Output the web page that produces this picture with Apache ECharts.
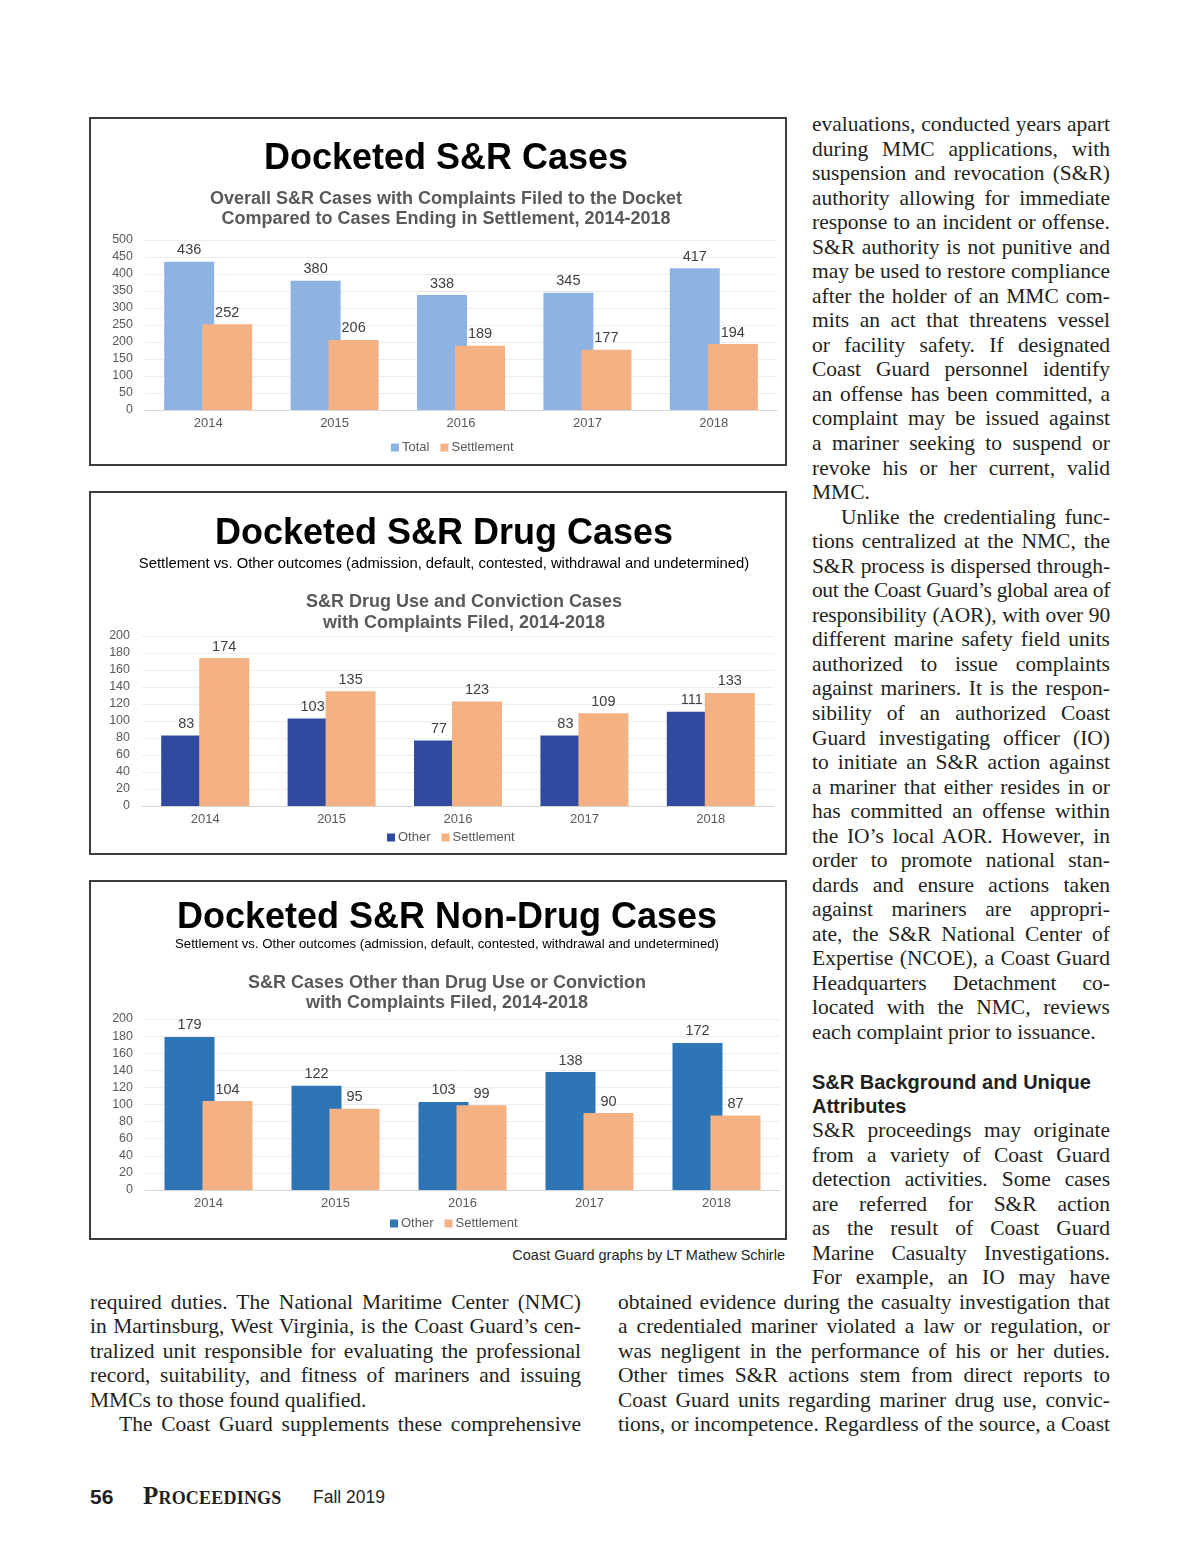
<!DOCTYPE html>
<html>
<head>
<meta charset="utf-8">
<script src="https://cdn.jsdelivr.net/npm/echarts@6/dist/echarts.min.js"></script>
<style>
  html, body { margin:0; padding:0; background:#fff; }
  #page { position:relative; width:1200px; height:1558px; overflow:hidden; background:#fff; }
  .chart { position:absolute; }
  .frame { position:absolute; border:2px solid #3c3c3c; box-sizing:border-box; pointer-events:none; }
  .ln { position:absolute; font-family:"Liberation Serif","Times New Roman",serif; font-size:21.5px; color:#231f20;
        line-height:24px; height:24px; white-space:nowrap; text-align:justify; text-align-last:justify; }
  .ln.nj { text-align:left; text-align-last:left; }
  .head { position:absolute; font-family:"Liberation Sans",Arial,sans-serif; font-weight:bold; font-size:20px; color:#231f20; line-height:24px; white-space:nowrap; }
  .cap { position:absolute; font-family:"Liberation Sans Narrow","Liberation Sans",Arial,sans-serif; font-size:14.5px; color:#231f20; white-space:nowrap; }
</style>
</head>
<body>
<div id="page">
  <div id="c1" class="chart" style="left:90px;top:118px;width:696px;height:347px;"></div>
  <div class="frame" style="left:89px;top:117px;width:698px;height:349px;"></div>
  <div id="c2" class="chart" style="left:90px;top:492px;width:696px;height:362px;"></div>
  <div class="frame" style="left:89px;top:491px;width:698px;height:364px;"></div>
  <div id="c3" class="chart" style="left:90px;top:881px;width:696px;height:358px;"></div>
  <div class="frame" style="left:89px;top:880px;width:698px;height:360px;"></div>
  <div class="cap" style="right:415px;top:1247px;">Coast Guard graphs by LT Mathew Schirle</div>
  <div class="head" style="left:812px;top:1070px;">S&amp;R Background and Unique</div>
  <div class="head" style="left:812px;top:1094px;">Attributes</div>
  <div style="position:absolute;left:90px;top:1485px;font-family:'Liberation Sans',Arial,sans-serif;font-weight:bold;font-size:21px;color:#231f20;">56</div>
  <div style="position:absolute;left:143px;top:1482px;font-family:'Liberation Serif',serif;font-weight:bold;font-variant:small-caps;font-size:25px;letter-spacing:0.2px;color:#231f20;">Proceedings</div>
  <div style="position:absolute;left:313px;top:1487px;font-family:'Liberation Sans',Arial,sans-serif;font-size:17.5px;color:#231f20;">Fall 2019</div>
</div>
<script>
// ---------- chart data ----------
const years = ['2014', '2015', '2016', '2017', '2018'];
const totalCases = [436, 380, 338, 345, 417];
const totalSettlement = [252, 206, 189, 177, 194];
const drugOther = [83, 103, 77, 83, 111];
const drugSettlement = [174, 135, 123, 109, 133];
const nonDrugOther = [179, 122, 103, 138, 172];
const nonDrugSettlement = [104, 95, 99, 90, 87];

const FONT = '"Liberation Sans", Arial, sans-serif';
const SETTLE_COLOR = '#F4B183';

function txt(text, x, y, size, weight, color) {
  return { type: 'text', x: x, y: y, silent: true,
    style: { text: text, font: weight + ' ' + size + 'px ' + FONT, fill: color,
             align: 'center', verticalAlign: 'middle', textAlign: 'center', textVerticalAlign: 'middle' } };
}

function makeChart(id, cfg) {
  const chart = echarts.init(document.getElementById(id), null, { renderer: 'canvas' });
  const labelOpt = { show: true, position: 'top', distance: 4, fontFamily: FONT, fontSize: 14.5, color: '#404040' };
  chart.setOption({
    animation: false,
    graphic: cfg.texts,
    grid: cfg.grid,
    legend: { left: cfg.legendLeft, top: cfg.legendTop, icon: 'rect', itemWidth: 8, itemHeight: 8, itemGap: 11,
      textStyle: { fontFamily: FONT, fontSize: 13, color: '#595959', padding: [0, 0, 0, -2] } },
    xAxis: { type: 'category', data: years,
      axisLine: { lineStyle: { color: '#d6d6d6', width: 1 } }, axisTick: { show: false },
      axisLabel: { fontFamily: FONT, fontSize: 13, color: '#595959', margin: 7 } },
    yAxis: { type: 'value', min: 0, max: cfg.max, interval: cfg.step,
      axisLine: { show: false }, axisTick: { show: false },
      splitLine: { lineStyle: { color: '#ededed', width: 1 } },
      axisLabel: { fontFamily: FONT, fontSize: 12.5, color: '#595959', margin: 12 } },
    series: [
      { name: cfg.names[0], type: 'bar', data: cfg.a, barWidth: 50, barGap: '-24%',
        itemStyle: { color: cfg.colorA }, label: labelOpt },
      { name: cfg.names[1], type: 'bar', data: cfg.b, barWidth: 50, barGap: '-24%',
        itemStyle: { color: SETTLE_COLOR }, label: labelOpt }
    ]
  });
}

makeChart('c1', {
  texts: [
    txt('Docketed S&R Cases', 356, 41, 36, 'bold', '#000'),
    txt('Overall S&R Cases with Complaints Filed to the Docket', 356, 81, 18, 'bold', '#595959'),
    txt('Compared to Cases Ending in Settlement, 2014-2018', 356, 101, 18, 'bold', '#595959')
  ],
  grid: { left: 55, top: 122, width: 632, height: 170 },
  max: 500, step: 50, names: ['Total', 'Settlement'], a: totalCases, b: totalSettlement,
  colorA: '#8DB3E2', legendLeft: 296, legendTop: 318
});

makeChart('c2', {
  texts: [
    txt('Docketed S&R Drug Cases', 354, 42, 36, 'bold', '#000'),
    txt('Settlement vs. Other outcomes (admission, default, contested, withdrawal and undetermined)', 354, 72, 14.8, 'normal', '#000'),
    txt('S&R Drug Use and Conviction Cases', 374, 110, 18, 'bold', '#595959'),
    txt('with Complaints Filed, 2014-2018', 374, 131, 18, 'bold', '#595959')
  ],
  grid: { left: 52, top: 144, width: 632, height: 170 },
  max: 200, step: 20, names: ['Other', 'Settlement'], a: drugOther, b: drugSettlement,
  colorA: '#2F4A9F', legendLeft: 292, legendTop: 334
});

makeChart('c3', {
  texts: [
    txt('Docketed S&R Non-Drug Cases', 357, 37, 36, 'bold', '#000'),
    txt('Settlement vs. Other outcomes (admission, default, contested, withdrawal and undetermined)', 357, 63, 13.2, 'normal', '#000'),
    txt('S&R Cases Other than Drug Use or Conviction', 357, 102, 18, 'bold', '#595959'),
    txt('with Complaints Filed, 2014-2018', 357, 122, 18, 'bold', '#595959')
  ],
  grid: { left: 55, top: 138, width: 635, height: 171 },
  max: 200, step: 20, names: ['Other', 'Settlement'], a: nonDrugOther, b: nonDrugSettlement,
  colorA: '#2E75B6', legendLeft: 295, legendTop: 331
});

// ---------- article text ----------
function placeLines(lines, x, y0, step, width) {
  const page = document.getElementById('page');
  lines.forEach(function (l, i) {
    const d = document.createElement('div');
    let t = l, cls = 'ln', indent = 0;
    if (t.startsWith('>')) { indent = 29; t = t.slice(1); }
    if (t.endsWith('|')) { cls += ' nj'; t = t.slice(0, -1); }
    d.className = cls;
    d.textContent = t;
    const w = width - indent;
    d.style.left = (x + indent) + 'px';
    d.style.width = w + 'px';
    d.style.top = (y0 + i * step - 13) + 'px';
    page.appendChild(d);
    if (d.scrollWidth > w) {
      d.style.letterSpacing = (-(d.scrollWidth - w + 2) / t.length).toFixed(3) + 'px';
    }
  });
}

placeLines([
  'evaluations, conducted years apart',
  'during MMC applications, with',
  'suspension and revocation (S&R)',
  'authority allowing for immediate',
  'response to an incident or offense.',
  'S&R authority is not punitive and',
  'may be used to restore compliance',
  'after the holder of an MMC com-',
  'mits an act that threatens vessel',
  'or facility safety. If designated',
  'Coast Guard personnel identify',
  'an offense has been committed, a',
  'complaint may be issued against',
  'a mariner seeking to suspend or',
  'revoke his or her current, valid',
  'MMC.|',
  '>Unlike the credentialing func-',
  'tions centralized at the NMC, the',
  'S&R process is dispersed through-',
  'out the Coast Guard\u2019s global area of',
  'responsibility (AOR), with over 90',
  'different marine safety field units',
  'authorized to issue complaints',
  'against mariners. It is the respon-',
  'sibility of an authorized Coast',
  'Guard investigating officer (IO)',
  'to initiate an S&R action against',
  'a mariner that either resides in or',
  'has committed an offense within',
  'the IO\u2019s local AOR. However, in',
  'order to promote national stan-',
  'dards and ensure actions taken',
  'against mariners are appropri-',
  'ate, the S&R National Center of',
  'Expertise (NCOE), a Coast Guard',
  'Headquarters Detachment co-',
  'located with the NMC, reviews',
  'each complaint prior to issuance.|'
], 812, 125, 24.54, 298);

placeLines([
  'S&R proceedings may originate',
  'from a variety of Coast Guard',
  'detection activities. Some cases',
  'are referred for S&R action',
  'as the result of Coast Guard',
  'Marine Casualty Investigations.',
  'For example, an IO may have'
], 812, 1131, 24.5, 298);

placeLines([
  'required duties. The National Maritime Center (NMC)',
  'in Martinsburg, West Virginia, is the Coast Guard\u2019s cen-',
  'tralized unit responsible for evaluating the professional',
  'record, suitability, and fitness of mariners and issuing',
  'MMCs to those found qualified.|',
  '>The Coast Guard supplements these comprehensive'
], 90, 1303, 24.45, 491);

placeLines([
  'obtained evidence during the casualty investigation that',
  'a credentialed mariner violated a law or regulation, or',
  'was negligent in the performance of his or her duties.',
  'Other times S&R actions stem from direct reports to',
  'Coast Guard units regarding mariner drug use, convic-',
  'tions, or incompetence. Regardless of the source, a Coast'
], 618, 1303, 24.45, 492);
</script>
</body>
</html>
